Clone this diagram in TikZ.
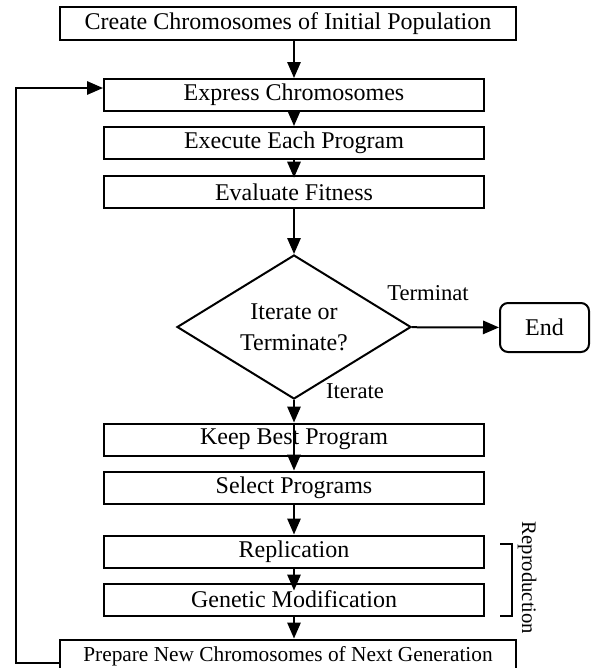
\documentclass[tikz,border=0pt]{standalone}
\usepackage{fontspec}
\setmainfont{Liberation Serif}
\usetikzlibrary{arrows.meta,shapes.geometric}
\begin{document}
\begin{tikzpicture}[x=0.75pt,y=-0.75pt,>={Triangle[length=12pt,width=10pt]}, line width=1.5pt, line join=miter,
	box/.style={draw, minimum width=285pt, minimum height=24pt, inner sep=0pt, font=\fontsize{18pt}{22pt}\selectfont},
	wbox/.style={box, minimum width=342pt, minimum height=24.75pt},
	decision/.style={draw, diamond, aspect=1.6, minimum width=175.5pt, minimum height=108pt, inner sep=0pt, align=center, font=\fontsize{18pt}{23pt}\selectfont},
	endbox/.style={draw, rounded corners=6pt, minimum width=66.75pt, minimum height=36.75pt, font=\fontsize{18pt}{22pt}\selectfont},
	lbl/.style={font=\fontsize{17pt}{20pt}\selectfont, inner sep=0pt}]
	\def\cx{294} % x of the main column
	\useasboundingbox (0,0) rectangle (591,668);
	% boxes
	\node[wbox] (create) at (288,23.5) {Create Chromosomes of Initial Population};
	\node[box] (express) at (\cx,95) {Express Chromosomes};
	\node[box] (execute) at (\cx,143) {Execute Each Program};
	\node[box] (evaluate) at (\cx,192) {Evaluate Fitness};
	\node[decision] (iter) at (\cx,327) {Iterate or\\Terminate?};
	\node[endbox] (end) at (544.5,327.5) {End};
	\node[box] (keep) at (\cx,439.5) {Keep Best Program};
	\node[box] (select) at (\cx,487.5) {Select Programs};
	\node[box] (repl) at (\cx,551.5) {Replication};
	\node[box] (genmod) at (\cx,599.5) {Genetic Modification};
	\node[wbox, font=\fontsize{16pt}{19pt}\selectfont] (prepare) at (288,656) {Prepare New Chromosomes of Next Generation};
	% labels
	\node[lbl] (lterm) at (428,293) {Terminat};
	\node[lbl] (liter) at (355,391) {Iterate};
	\node[font=\fontsize{15.5pt}{18pt}\selectfont, rotate=-90, inner sep=0pt] (lrepro) at (527,578) {Reproduction};
	% connectors
	\draw[->] (express.north |- create.south) -- (express.north);
	\draw[->] (express) -- (execute);
	\draw[->,shorten >=-2pt] (execute) -- (evaluate);
	\draw[->] (evaluate) -- (iter);
	\draw[->] (iter) -- (end);
	\draw[->] (iter) -- (keep);
	\draw[->] (keep.north) -- (select.north);
	\draw[->] (select) -- (repl);
	\draw[->,shorten >=-6pt] (repl) -- (genmod);
	\draw[->] (genmod.south) -- (genmod.south |- prepare.north);
	\coordinate (fb1) at (16,663);
	\coordinate (fb2) at (16,88);
	\draw[->] (prepare.west |- fb1) -- (fb1) -- (fb2) -- (express.west |- fb2);
	% bracket
	\coordinate (br1) at (500,544);
	\coordinate (br2) at (500,616);
	\draw (br1) -- ++(12,0) -- ++(0,72) -- (br2);
\end{tikzpicture}
\end{document}
